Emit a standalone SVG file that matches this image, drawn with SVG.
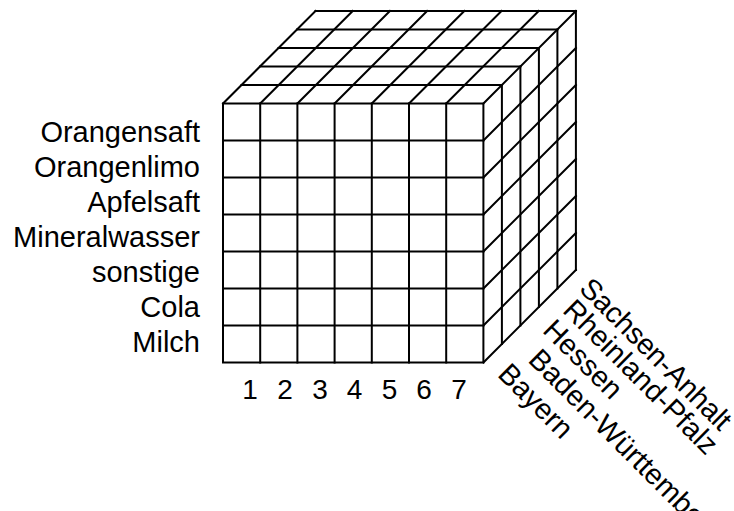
<svg xmlns="http://www.w3.org/2000/svg" width="734" height="511" viewBox="0 0 734 511">
<style>
.g{fill:none;stroke:#000;stroke-width:2;stroke-linecap:square}
.t{font-family:"Liberation Sans",Arial,sans-serif;font-size:29px;fill:#000}
.d{font-size:28px}
.r{text-anchor:end}
.m{text-anchor:middle}
</style>
<rect width="734" height="511" fill="#fff"/>
<g id="cube" class="g">
<g id="front">
<rect x="223" y="103.5" width="260.4" height="259"/>
<path d="M260.2 103.5V362.5M297.4 103.5V362.5M334.6 103.5V362.5M371.8 103.5V362.5M409 103.5V362.5M446.2 103.5V362.5"/>
<path d="M223 140.5H483.4M223 177.5H483.4M223 214.5H483.4M223 251.5H483.4M223 288.5H483.4M223 325.5H483.4"/>
</g>
<g id="top">
<path d="M241.5 85H501.9M260 66.5H520.4M278.5 48H538.9M297 29.5H557.4M315.5 11H575.9"/>
<path d="M223 103.5l92.5 -92.5M260.2 103.5l92.5 -92.5M297.4 103.5l92.5 -92.5M334.6 103.5l92.5 -92.5M371.8 103.5l92.5 -92.5M409 103.5l92.5 -92.5M446.2 103.5l92.5 -92.5M483.4 103.5l92.5 -92.5"/>
</g>
<g id="side">
<path d="M501.9 85V344M520.4 66.5V325.5M538.9 48V307M557.4 29.5V288.5M575.9 11V270"/>
<path d="M483.4 140.5l92.5 -92.5M483.4 177.5l92.5 -92.5M483.4 214.5l92.5 -92.5M483.4 251.5l92.5 -92.5M483.4 288.5l92.5 -92.5M483.4 325.5l92.5 -92.5M483.4 362.5l92.5 -92.5"/>
</g>
</g>
<g id="rows" class="t r">
<text x="200" y="142">Orangensaft</text>
<text x="200" y="177">Orangenlimo</text>
<text x="200" y="212">Apfelsaft</text>
<text x="200" y="247">Mineralwasser</text>
<text x="200" y="282">sonstige</text>
<text x="200" y="317">Cola</text>
<text x="200" y="352">Milch</text>
</g>
<g id="cols" class="t d m">
<text x="250" y="399">1</text>
<text x="285" y="399">2</text>
<text x="320" y="399">3</text>
<text x="354.5" y="399">4</text>
<text x="389.5" y="399">5</text>
<text x="424" y="399">6</text>
<text x="459" y="399">7</text>
</g>
<g id="layers" class="t">
<text transform="translate(496.5 375.5) rotate(45)">Bayern</text>
<text transform="translate(527 361) rotate(45)">Baden-Württemberg</text>
<text transform="translate(541.5 331.5) rotate(45)">Hessen</text>
<text transform="translate(561.5 311.5) rotate(45)">Rheinland-Pfalz</text>
<text transform="translate(578 290) rotate(45)" letter-spacing="-0.3">Sachsen-Anhalt</text>
</g>
</svg>
